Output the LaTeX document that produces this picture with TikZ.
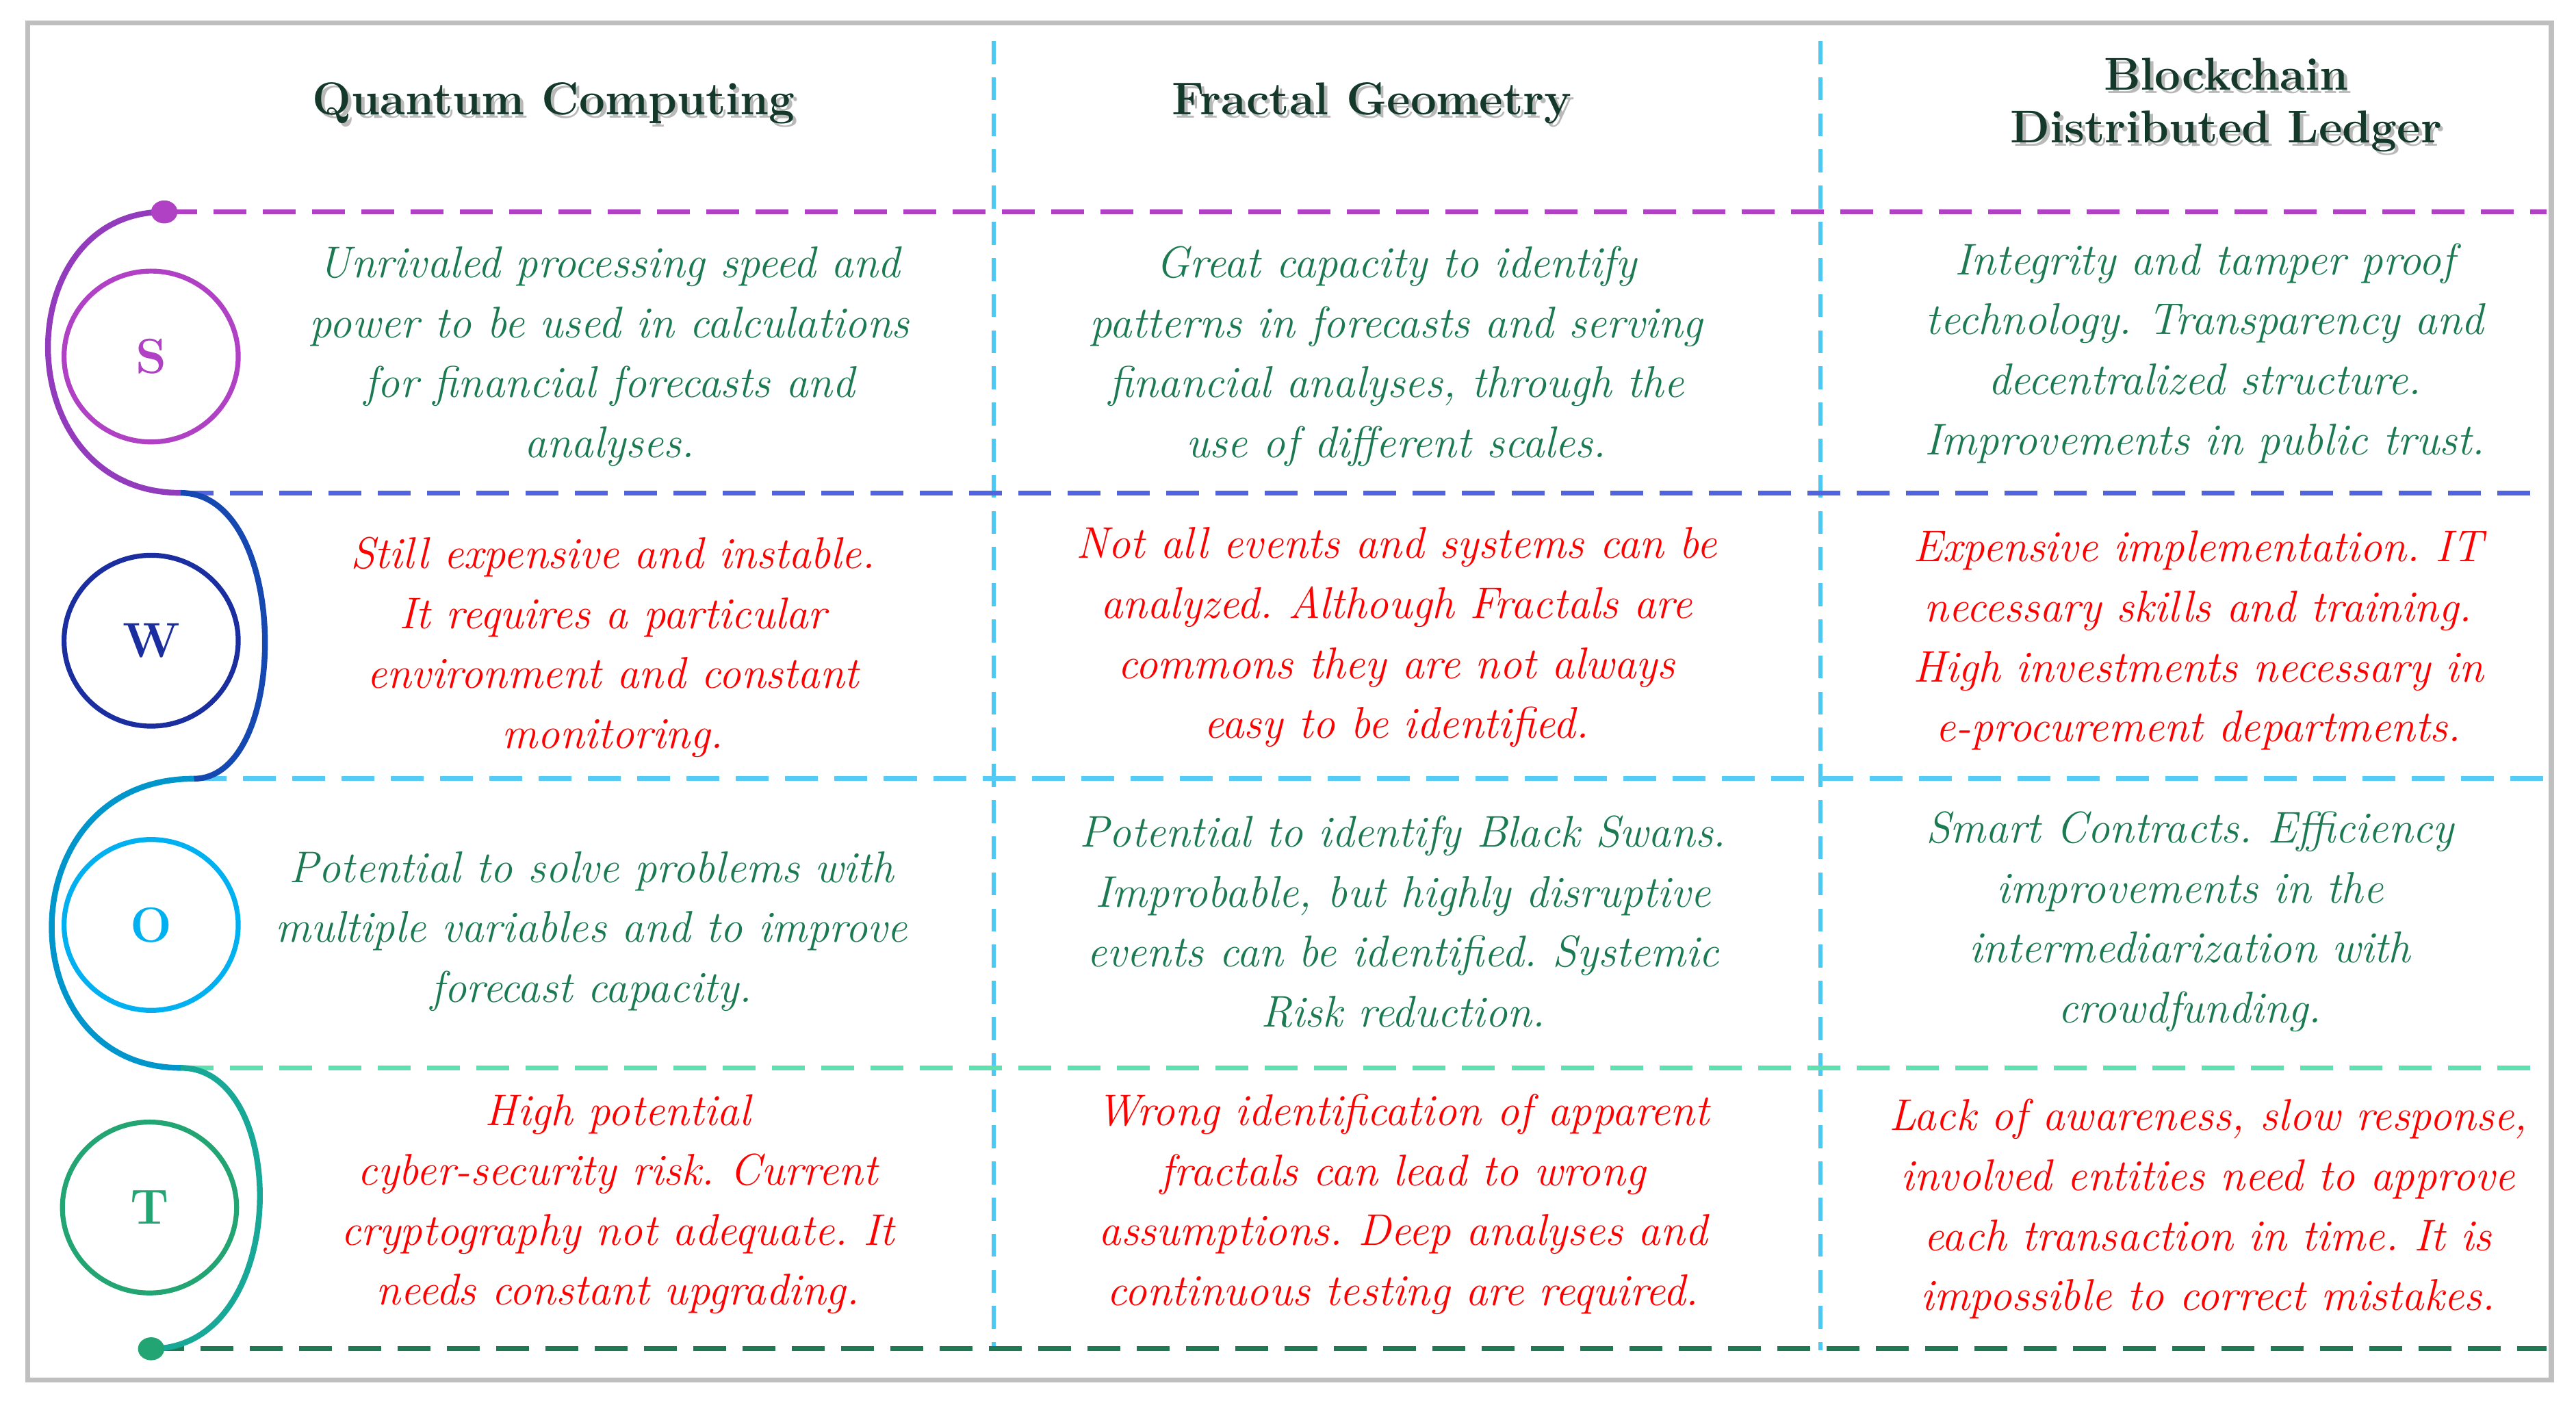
\documentclass[tikz,border=0pt]{standalone}
\usepackage{fontspec}
\usetikzlibrary{shapes.geometric}
\frenchspacing
\begin{document}
\begin{tikzpicture}[x=1pt,y=-1pt,
  cell/.style={align=center,font=\fontsize{27}{36.5}\selectfont\itshape,inner sep=0},
  good/.style={cell,text=tgreen},
  bad/.style={cell,text=red},
  head/.style={align=center,font=\fontsize{28}{32}\selectfont\bfseries,inner sep=0},
  shad/.style={head,text=gray!55},
  dl/.style={line width=3pt,dash pattern=on 20pt off 10pt},
  vl/.style={line width=2.5pt,dash pattern=on 14pt off 8pt,draw=vblue},
  circ/.style={ellipse,draw,line width=3pt,minimum width=106pt,minimum height=104pt,font=\fontsize{30}{30}\selectfont\bfseries},
  snake/.style={line width=3.5pt}
]
\definecolor{tgreen}{HTML}{1B7A52}
\definecolor{hgreen}{HTML}{14382A}
\definecolor{vblue}{HTML}{4DC8F2}
\definecolor{cS}{HTML}{B040C4}
\definecolor{cW}{HTML}{1A2EA0}
\definecolor{cO}{HTML}{00B0F0}
\definecolor{cT}{HTML}{22A572}
\definecolor{lS}{HTML}{B040C4}
\definecolor{lW}{HTML}{5064E0}
\definecolor{lO}{HTML}{55CCF5}
\definecolor{lT}{HTML}{5EE0B0}
\definecolor{lE}{HTML}{1E7A52}
\useasboundingbox (0,0) rectangle (1568,855);
\draw[gray!50,line width=3pt] (17,14) rectangle (1553,840);
% vertical dividers
\coordinate (v1t) at (605,25); \coordinate (v1b) at (605,822);
\coordinate (v2t) at (1108,25); \coordinate (v2b) at (1108,822);
\draw[vl] (v1t) -- (v1b);
\draw[vl] (v2t) -- (v2b);
% horizontal dividers
\coordinate (h1a) at (100,129); \coordinate (h1b) at (1550,129);
\coordinate (h2a) at (110,300); \coordinate (h2b) at (1550,300);
\coordinate (h3a) at (118,474); \coordinate (h3b) at (1550,474);
\coordinate (h4a) at (110,650); \coordinate (h4b) at (1550,650);
\coordinate (h5a) at (92,821); \coordinate (h5b) at (1550,821);
\draw[dl,lS] (h1a) -- (h1b);
\draw[dl,lW] (h2a) -- (h2b);
\draw[dl,lO] (h3a) -- (h3b);
\draw[dl,lT] (h4a) -- (h4b);
\draw[dl,lE] (h5a) -- (h5b);
% snake
\draw[snake,color=cS!80!cW] (h1a) .. controls (4,129) and (4,300) .. (h2a);
\draw[snake,color=cW!80!cO] (h2a) .. controls (177,300) and (177,474) .. (h3a);
\draw[snake,color=cO!85!black] (h3a) .. controls (4,474) and (4,650) .. (h4a);
\draw[snake,color=cT!70!cO] (h4a) .. controls (177,650) and (177,821) .. (h5a);
\fill[cS] (h1a) ellipse (8 and 7);
\fill[cT] (h5a) ellipse (8 and 7);
% circles
\node[circ,draw=cS,text=cS] (S) at (92,217) {S};
\node[circ,draw=cW,text=cW] (W) at (92,390) {W};
\node[circ,draw=cO,text=cO] (O) at (92,563) {O};
\node[circ,draw=cT,text=cT] (T) at (91,735) {T};
% headers
\node[shad] (h1s) at (339,65) {Quantum Computing};
\node[shad] (h2s) at (837,65) {Fractal Geometry};
\node[shad] (h3s) at (1357,66) {Blockchain\\Distributed Ledger};
\node[head,text=hgreen] (h1) at (337,63) {Quantum Computing};
\node[head,text=hgreen] (h2) at (835,63) {Fractal Geometry};
\node[head,text=hgreen] (h3) at (1355,64) {Blockchain\\Distributed Ledger};
% cells
\node[good] (s1) at (371,217) {Unrivaled processing speed and\\power to be used in calculations\\for financial forecasts and\\analyses.};
\node[good] (s2) at (850,217) {Great capacity to identify\\patterns in forecasts and serving\\financial analyses, through the\\use of different scales.};
\node[good] (s3) at (1342,215) {Integrity and tamper proof\\technology. Transparency and\\decentralized structure.\\Improvements in public trust.};
\node[bad] (w1) at (373,394) {Still expensive and instable.\\It requires a particular\\environment and constant\\monitoring.};
\node[bad] (w2) at (850,388) {Not all events and systems can be\\analyzed. Although Fractals are\\commons they are not always\\easy to be identified.};
\node[bad] (w3) at (1338,390) {Expensive implementation. IT\\necessary skills and training.\\High investments necessary in\\e-procurement departments.};
\node[good] (o1) at (360,567) {Potential to solve problems with\\multiple variables and to improve\\forecast capacity.};
\node[good] (o2) at (854,561) {Potential to identify Black Swans.\\Improbable, but highly disruptive\\events can be identified. Systemic\\Risk reduction.};
\node[good] (o3) at (1333,561) {Smart Contracts. Efficiency\\improvements in the\\intermediarization with\\crowdfunding.};
\node[bad] (t1) at (376,733) {High potential\\cyber-security risk. Current\\cryptography not adequate. It\\needs constant upgrading.};
\node[bad] (t2) at (854,733) {Wrong identification of apparent\\fractals can lead to wrong\\assumptions. Deep analyses and\\continuous testing are required.};
\node[bad] (t3) at (1344,736) {Lack of awareness, slow response,\\involved entities need to approve\\each transaction in time. It is\\impossible to correct mistakes.};
\end{tikzpicture}
\end{document}
